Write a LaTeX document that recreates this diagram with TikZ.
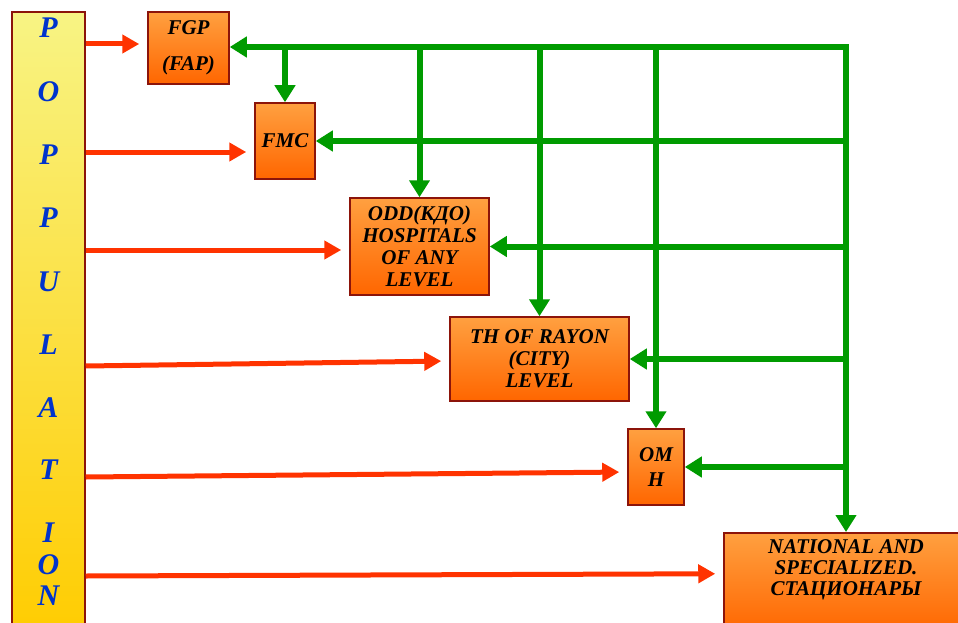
\documentclass[tikz,border=0pt]{standalone}
\usepackage{fontspec}
\setmainfont{Liberation Serif}
\usetikzlibrary{arrows.meta,calc}
\definecolor{popblue}{RGB}{0,51,204}
\definecolor{arrred}{RGB}{255,51,0}
\definecolor{arrgreen}{RGB}{0,155,0}
\definecolor{boxtop}{RGB}{255,160,64}
\definecolor{boxbot}{RGB}{255,102,0}
\definecolor{boxedge}{RGB}{140,20,10}
\definecolor{poptop}{RGB}{248,244,132}
\definecolor{popbot}{RGB}{255,204,0}
\begin{document}
\begin{tikzpicture}[x=1pt,y=-1pt,
  box/.style={draw=boxedge, line width=1.5pt, top color=boxtop, bottom color=boxbot,
    inner sep=0pt, font=\fontsize{21}{22}\selectfont\bfseries\itshape, align=center, text=black},
  boxtext/.style={inner sep=0pt, font=\fontsize{21}{21}\selectfont\bfseries\itshape, align=center, text=black},
  popbox/.style={draw=boxedge, line width=1.5pt, top color=poptop, bottom color=popbot, inner sep=0pt},
  popletter/.style={font=\fontsize{30}{30}\selectfont\bfseries\itshape, text=popblue, inner sep=0pt},
  redarr/.style={draw=arrred, line width=5pt, shorten >=8pt, -{Triangle[length=17pt,width=18pt]}},
  grnarr/.style={draw=arrgreen, line width=6pt, -{Triangle[length=17pt,width=20pt]}},
  grntip/.style={draw=arrgreen, line width=6pt, {Triangle[length=17pt,width=20pt]}-{Triangle[length=17pt,width=20pt]}}
]
\clip (0,0) rectangle (958,623);
\fill[white] (0,0) rectangle (958,623);

% population column
\node[popbox, minimum width=73pt, minimum height=628pt] (pop) at (48.5,326) {};
\node[popletter] (l1) at (48.5,28) {P};
\node[popletter] (l2) at (48.5,92) {O};
\node[popletter] (l3) at (48.5,155) {P};
\node[popletter] (l4) at (48.5,218) {P};
\node[popletter] (l5) at (48.5,282) {U};
\node[popletter] (l6) at (48.5,345) {L};
\node[popletter] (l7) at (48.5,408) {A};
\node[popletter] (l8) at (48.5,470) {T};
\node[popletter] (l9) at (48.5,533) {I};
\node[popletter] (l10) at (48.5,565) {O};
\node[popletter] (l11) at (48.5,596) {N};

% boxes
\node[box, minimum width=81pt, minimum height=72pt] (fgp) at (188.5,48) {FGP\\[14pt](FAP)};
\node[box, minimum width=60pt, minimum height=76pt] (fmc) at (285,141) {FMC};
\node[box, minimum width=139pt, minimum height=97pt] (odd) at (419.5,246.5) {ODD(КДО)\\HOSPITALS\\OF ANY\\LEVEL};
\node[box, minimum width=179pt, minimum height=84pt] (th) at (539.5,359) {TH OF RAYON\\(CITY)\\LEVEL};
\node[box, minimum width=56pt, minimum height=76pt] (omh) at (656,467) {OM\\[3pt]H};
\node[box, minimum width=244pt, minimum height=100pt, anchor=north] (nat) at (846,532) {};
\node[boxtext, anchor=north] (natlabel) at ($(nat.north)+(0,7)$) {NATIONAL AND\\SPECIALIZED.\\СТАЦИОНАРЫ};

% red arrows
\coordinate (r1) at (pop.east |- 0,44);
\coordinate (r2) at (pop.east |- 0,152);
\coordinate (r3) at (pop.east |- 0,250);
\coordinate (r4) at (pop.east |- 0,366);
\coordinate (r5) at (pop.east |- 0,477);
\coordinate (r6) at (pop.east |- 0,576);
\draw[redarr] (r1) -- (fgp.west |- r1);
\draw[redarr] (r2) -- (fmc.west |- r2);
\draw[redarr] (r3) -- (odd.west |- r3);
\draw[redarr] (r4) -- ($(th.west)+(0,2)$);
\draw[redarr] (r5) -- ($(omh.west)+(0,5)$);
\draw[redarr] (r6) -- ($(nat.west)+(0,-9)$);

% green arrows
\coordinate (tr) at (846,47);
\draw[grntip] (fgp.east |- tr) -- (tr) -- (tr |- nat.north);
\draw[grnarr] (fmc.north |- tr) -- (fmc.north);
\draw[grnarr] (odd.north |- tr) -- (odd.north);
\draw[grnarr] (th.north |- tr) -- (th.north);
\draw[grnarr] (omh.north |- tr) -- (omh.north);
\draw[grnarr] (tr |- fmc.east) -- (fmc.east);
\draw[grnarr] (tr |- odd.east) -- (odd.east);
\draw[grnarr] (tr |- th.east) -- (th.east);
\draw[grnarr] (tr |- omh.east) -- (omh.east);
\end{tikzpicture}
\end{document}
